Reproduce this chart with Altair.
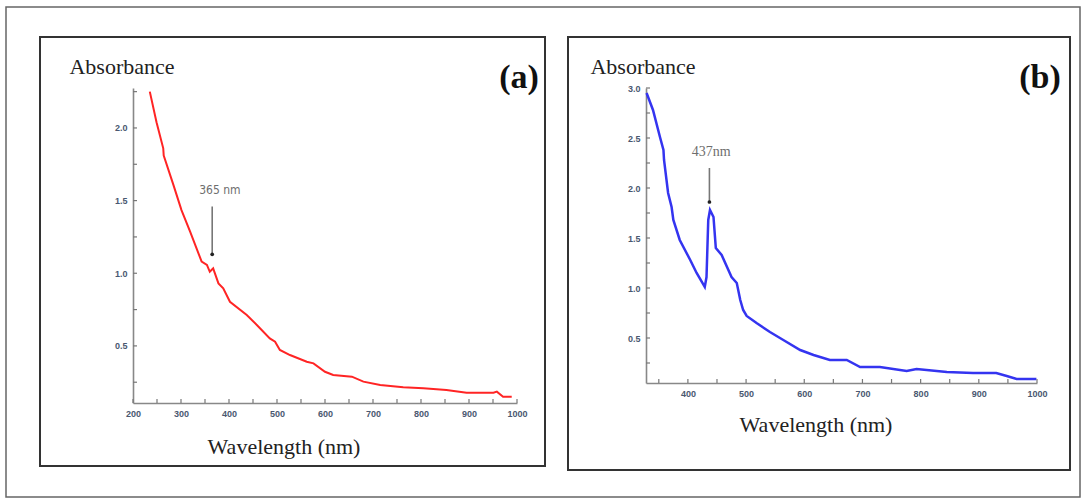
import altair as alt
import pandas as pd

# ---------------- data ----------------
wl_a = [235, 249, 263, 264, 284, 301, 319, 343, 354, 360, 367, 378, 388, 402, 437, 458,
        485, 496, 506, 527, 562, 576, 600, 617, 656, 680, 715, 763, 805, 853, 895, 951,
        958, 971, 989]
abs_a = [2.25, 2.04, 1.86, 1.81, 1.61, 1.435, 1.286, 1.08, 1.057, 1.01, 1.034, 0.93, 0.896,
         0.804, 0.713, 0.644, 0.552, 0.529, 0.472, 0.437, 0.391, 0.38, 0.322, 0.30, 0.288,
         0.254, 0.231, 0.215, 0.208, 0.197, 0.178, 0.178, 0.185, 0.15, 0.15]

wl_b = [329, 340, 352, 358, 359, 366, 372, 375, 386, 404, 415, 429, 432, 435, 438, 444, 448,
        458, 475, 484, 490, 495, 501, 518, 541, 564, 593, 616, 644, 673, 696, 730, 776, 793,
        845, 890, 930, 948, 965, 999]
abs_b = [2.95, 2.78, 2.51, 2.38, 2.28, 1.95, 1.81, 1.68, 1.48, 1.28, 1.15, 1.01, 1.11, 1.68,
         1.78, 1.71, 1.40, 1.33, 1.11, 1.05, 0.88, 0.78, 0.72, 0.65, 0.56, 0.48, 0.38, 0.33,
         0.28, 0.28, 0.21, 0.21, 0.17, 0.19, 0.16, 0.15, 0.15, 0.12, 0.09, 0.09]

x_ticks_a = list(range(200, 1001, 50))
y_ticks_a = [0.25, 0.5, 0.75, 1.0, 1.25, 1.5, 1.75, 2.0, 2.25]
x_ticks_b = list(range(350, 1001, 50))
y_ticks_b = [0.25, 0.5, 0.75, 1.0, 1.25, 1.5, 1.75, 2.0, 2.25, 2.5, 2.75, 3.0]

# annotations: label position, arrow wavelength, arrow top / bottom absorbance
ann_a = {"label": "365 nm", "lx": 381, "ly": 1.57, "wl": 365, "top": 1.46, "bot": 1.13}
ann_b = {"label": "437nm", "lx": 440, "ly": 2.36, "wl": 437, "top": 2.20, "bot": 1.86}

SERIF = "Liberation Serif"
LABEL_COLOR = "#4a5870"


def panel(wl, ab, color, xdom, ydom, xt, yt, W, H, ann, tag, title_dx, tag_dx, xt_dx, xt_dy,
          frames, line_w, ann_font, ann_size):
    curve = pd.DataFrame({"wl": wl, "A": ab})
    one = pd.DataFrame({"k": [0]})
    xs = alt.Scale(domain=xdom, nice=False, zero=False)
    ys = alt.Scale(domain=ydom, nice=False, zero=False)
    xaxis = alt.Axis(values=xt, title=None, ticks=False, grid=False, format="d",
                     labelExpr="datum.value % 100 == 0 ? datum.label : ''",
                     labelPadding=6, labelFontSize=9, labelFontWeight="bold",
                     labelColor=LABEL_COLOR, domainColor="#888",
                     domainWidth=1.6, labelFlush=False)
    yaxis = alt.Axis(values=yt, title=None, ticks=False, grid=False,
                     labelExpr="datum.value % 0.5 == 0 ? format(datum.value, '.1f') : ''",
                     labelPadding=6, labelFontSize=9, labelFontWeight="bold",
                     labelColor=LABEL_COLOR, domainColor="#888",
                     domainWidth=1.6)

    layers = []
    for (x1, x2, y1, y2, col, sw) in frames:
        layers.append(
            alt.Chart(one).mark_rect(filled=False, stroke=col, strokeWidth=sw).encode(
                x=alt.value(x1), x2=alt.value(x2), y=alt.value(y1), y2=alt.value(y2)))

    line = alt.Chart(curve).mark_line(color=color, strokeWidth=line_w,
                                      interpolate="linear").encode(
        x=alt.X("wl:Q", scale=xs, axis=xaxis),
        y=alt.Y("A:Q", scale=ys, axis=yaxis),
    )

    xtick = alt.Chart(pd.DataFrame({"wl": xt})).mark_rule(color="#777", strokeWidth=1.2).encode(
        x=alt.X("wl:Q", scale=xs, axis=xaxis), y=alt.value(H), y2=alt.value(H - 4))
    ytick = alt.Chart(pd.DataFrame({"A": yt})).mark_rule(color="#777", strokeWidth=1.2).encode(
        y=alt.Y("A:Q", scale=ys, axis=yaxis), x=alt.value(0), x2=alt.value(4))

    adf = pd.DataFrame([ann])
    arrow = alt.Chart(adf).mark_rule(color="#777", strokeWidth=1.6).encode(
        x=alt.X("wl:Q", scale=xs, axis=xaxis),
        y=alt.Y("top:Q", scale=ys, axis=yaxis), y2="bot:Q")
    dot = alt.Chart(adf).mark_point(filled=True, color="#222", size=14, opacity=1).encode(
        x=alt.X("wl:Q", scale=xs, axis=xaxis), y=alt.Y("bot:Q", scale=ys, axis=yaxis))
    alabel = alt.Chart(adf).mark_text(color="#6e6e6e", fontSize=ann_size, font=ann_font,
                                      baseline="middle").encode(
        x=alt.X("lx:Q", scale=xs, axis=xaxis), y=alt.Y("ly:Q", scale=ys, axis=yaxis),
        text="label:N")

    t_abs = alt.Chart(one).mark_text(text="Absorbance", font=SERIF, fontSize=22,
                                     color="#222", baseline="middle").encode(
        x=alt.value(title_dx), y=alt.value(-21))
    t_tag = alt.Chart(one).mark_text(text=tag, font=SERIF, fontSize=34, fontWeight="bold",
                                     color="#111", baseline="middle").encode(
        x=alt.value(tag_dx), y=alt.value(-10))
    t_x = alt.Chart(one).mark_text(text="Wavelength (nm)", font=SERIF, fontSize=22,
                                   color="#222", baseline="middle").encode(
        x=alt.value(xt_dx), y=alt.value(xt_dy))

    layers += [line, xtick, ytick, arrow, dot, alabel, t_abs, t_tag, t_x]
    return alt.layer(*layers).properties(width=W, height=H)


left = panel(wl_a, abs_a, "#ff2424", [200, 1000], [0.107, 2.275], x_ticks_a, y_ticks_a,
             384, 315, ann_a, "(a)", -11, 386, 151, 359,
             frames=[(-127, 947, -81, 409, "#666", 1.5), (-93, 412, -51, 378, "#333", 2)],
             line_w=2, ann_font="DejaVu Sans Condensed", ann_size=12)
right = panel(wl_b, abs_b, "#3434f0", [328, 1000], [0.05, 3.0], x_ticks_b, y_ticks_b,
              391, 295, ann_b, "(b)", -3, 394, 170, 337,
              frames=[(-78, 424, -51, 382, "#333", 2)], line_w=2.5,
              ann_font=SERIF, ann_size=14)

chart = alt.hconcat(left, right, spacing=129, bounds="flush").properties(
    padding={"left": 5, "top": 6, "right": 3, "bottom": 6},
    background="white",
).configure_view(stroke=None)

chart.save("out.html", embed_options={"renderer": "svg", "actions": False})
